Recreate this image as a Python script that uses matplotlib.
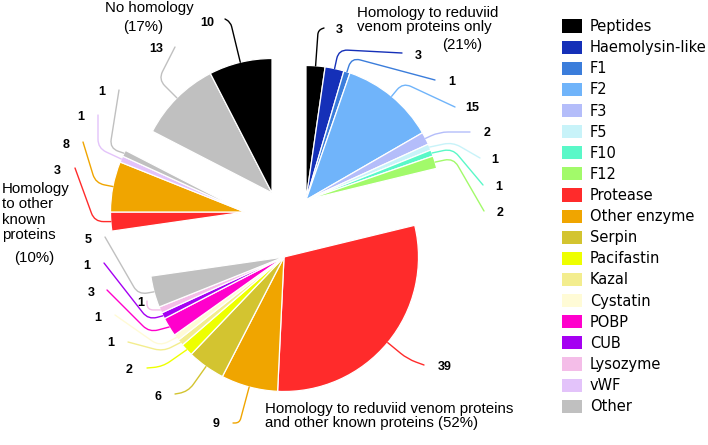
import numpy as np
import matplotlib.pyplot as plt
from matplotlib.patches import Patch

plt.rcParams["font.family"] = ["Liberation Sans", "DejaVu Sans"]

W, H = 708, 445

# ---- dados ----
cats_so_reduviid = ["Peptides", "Haemolysin-like", "F1", "F2", "F3", "F5", "F10", "F12"]
vals_so_reduviid = [3, 3, 1, 15, 2, 1, 1, 2]

cats_reduviid_outras = ["Protease", "Other enzyme", "Serpin", "Pacifastin", "Kazal",
                        "Cystatin", "POBP", "CUB", "Lysozyme", "Other"]
vals_reduviid_outras = [39, 9, 6, 2, 1, 1, 3, 1, 1, 5]

cats_outras = ["Protease", "Other enzyme", "vWF", "Other"]
vals_outras = [3, 8, 1, 1]

cats_sem_homologia = ["Other", "Peptides"]
vals_sem_homologia = [13, 10]

nomes_grupos = ["Homology to reduviid\nvenom proteins only",
                "Homology to reduviid venom proteins\nand other known proteins",
                "Homology\nto other\nknown\nproteins",
                "No homology"]

legenda = ["Peptides", "Haemolysin-like", "F1", "F2", "F3", "F5", "F10", "F12",
           "Protease", "Other enzyme", "Serpin", "Pacifastin", "Kazal", "Cystatin",
           "POBP", "CUB", "Lysozyme", "vWF", "Other"]

# ---- estilo ----
cores = {
    "Peptides": "#000000", "Haemolysin-like": "#1530b8", "F1": "#3b7ddb",
    "F2": "#70b4fa", "F3": "#b4bdfa", "F5": "#c8f3f9", "F10": "#5af8c8",
    "F12": "#a2fa6a", "Protease": "#ff2b2b", "Other enzyme": "#f0a500",
    "Serpin": "#d3c430", "Pacifastin": "#eeff00", "Kazal": "#f3ed8e",
    "Cystatin": "#fffbd6", "POBP": "#ff00cc", "CUB": "#a500f2",
    "Lysozyme": "#f4bde8", "vWF": "#e3c3fa", "Other": "#c0c0c0",
}

raio = 134.5
origem = (284, H - 221)
# deslocamento de cada grupo (explode), em px
deslocamento = [(22, 21), (0, -36), (-39, 9), (-12, 28)]

# posicoes dos numeros (px, y para baixo): texto x, y, inicio linha x, y, angulo lado texto, angulo lado fatia
pos_so_reduviid = [
    (339, 30, 324, 28, 20, None),
    (418, 56, 402, 53, -3, None),
    (452, 82, 435, 80, -15, None),
    (472, 108, 455, 107, -25, None),
    (487, 133, 470, 132, 0, 25),
    (495, 160, 480, 158, -30, 12),
    (499, 187, 483, 185, -50, 12),
    (500, 213, 484, 211, -60, 12),
]
pos_reduviid_outras = [
    (445, 367, 424, 365, -20, None),
    (216, 424, 233, 423, 0, None),
    (158, 397, 175, 394, 10, None),
    (129, 370, 147, 368, 5, -145),
    (111, 343, 128, 342, -15, -153),
    (98, 318, 115, 315, -35, -153),
    (91, 293, 107, 290, -45, -165),
    (87, 266, 104, 263, -52, -165),
    (141, 303, 147, 301, 90, 180),
    (88, 240, 105, 237, -60, -170),
]
pos_outras = [
    (57, 171, 75, 168, 110, 180),
    (66, 145, 83, 142, 107, 169),
    (81, 117, 98, 115, 90, 155),
    (102, 92, 119, 90, 81, 161),
]
pos_sem_homologia = [
    (156, 49, 175, 47, 63, None),
    (207, 23, 225, 19, 150, None),
]

# rotulos dos grupos: (x, y, ha, espacamento) do nome e (x, y) do percentual
pos_nomes = [
    ((357, 20, "left", 1.0), (462, 45)),
    ((265, 416, "left", 1.0), None),
    ((2, 212, "left", 1.13), (34, 258)),
    ((149, 8, "center", 1.0), (143, 27)),
]


def canto(p1, a1, p2, a2):
    d1 = np.array([np.cos(np.radians(a1)), np.sin(np.radians(a1))])
    d2 = np.array([np.cos(np.radians(a2)), np.sin(np.radians(a2))])
    t = np.linalg.solve(np.column_stack([d1, -d2]), np.array(p2) - np.array(p1))
    return np.array(p1) + t[0] * d1


fig = plt.figure(figsize=(W / 100, H / 100), dpi=100)
ax = fig.add_axes([0, 0, 1, 1])

grupos = [
    (cats_so_reduviid, vals_so_reduviid, pos_so_reduviid),
    (cats_reduviid_outras, vals_reduviid_outras, pos_reduviid_outras),
    (cats_outras, vals_outras, pos_outras),
    (cats_sem_homologia, vals_sem_homologia, pos_sem_homologia),
]
total = sum(sum(v) for _, v, _ in grupos)

inicio = 90.0
for g, (cats, vals, posicoes) in enumerate(grupos):
    frac = np.array(vals) / total
    span = 360 * frac.sum()
    cx = origem[0] + deslocamento[g][0]
    cy = origem[1] + deslocamento[g][1]

    fatias, _ = ax.pie(frac, normalize=False, startangle=inicio, counterclock=False,
                       center=(cx, cy), radius=raio,
                       colors=[cores[c] for c in cats],
                       wedgeprops=dict(edgecolor="white", linewidth=0.9))

    for w, c, v, (tx, ty, sx, sy, angA, angB) in zip(fatias, cats, vals, posicoes):
        ang = (w.theta1 + w.theta2) / 2
        px = cx + raio * np.cos(np.radians(ang))
        py = cy + raio * np.sin(np.radians(ang))
        if angB is None:
            angB = ang
        ini = (sx, H - sy)
        k = canto(ini, angA, (px, py), angB)
        d = min(np.hypot(*(k - ini)), np.hypot(*(k - (px, py))))
        rad = min(9, 0.7 * d)
        ax.annotate("", xy=(px, py), xytext=ini,
                    arrowprops=dict(arrowstyle="-", color=cores[c], lw=1.0,
                                    shrinkA=0, shrinkB=0,
                                    connectionstyle=f"angle,angleA={angA},angleB={angB},rad={rad:.1f}"))
        ax.text(tx, H - ty, str(v), ha="center", va="center",
                fontsize=9, fontweight="bold")

    (nx, ny, ha, ls), ppos = pos_nomes[g]
    pct = f"({100 * frac.sum():.0f}%)"
    if ppos is None:
        nome = nomes_grupos[g] + " " + pct
        ax.text(nx, H - ny, nome, ha=ha, va="center", fontsize=10.8,
                linespacing=ls, multialignment="left")
    else:
        ax.text(nx, H - ny, nomes_grupos[g], ha=ha, va="center", fontsize=10.8,
                linespacing=ls, multialignment=ha)
        ax.text(ppos[0], H - ppos[1], pct, ha="center", va="center", fontsize=10.8)

    inicio -= span

ax.set_xlim(0, W)
ax.set_ylim(0, H)
ax.set_aspect("equal")
ax.axis("off")

handles = [Patch(facecolor=cores[c], edgecolor="none", label=c) for c in legenda]
fig.legend(handles=handles, loc="upper left", bbox_to_anchor=(562 / W, 1 - 19 / H),
           frameon=False, prop={"family": "DejaVu Sans", "size": 10.5},
           handlelength=1.37, handleheight=1.0, handletextpad=0.55,
           labelspacing=0.42, borderpad=0, borderaxespad=0)

fig.savefig("out.png", dpi=100)
